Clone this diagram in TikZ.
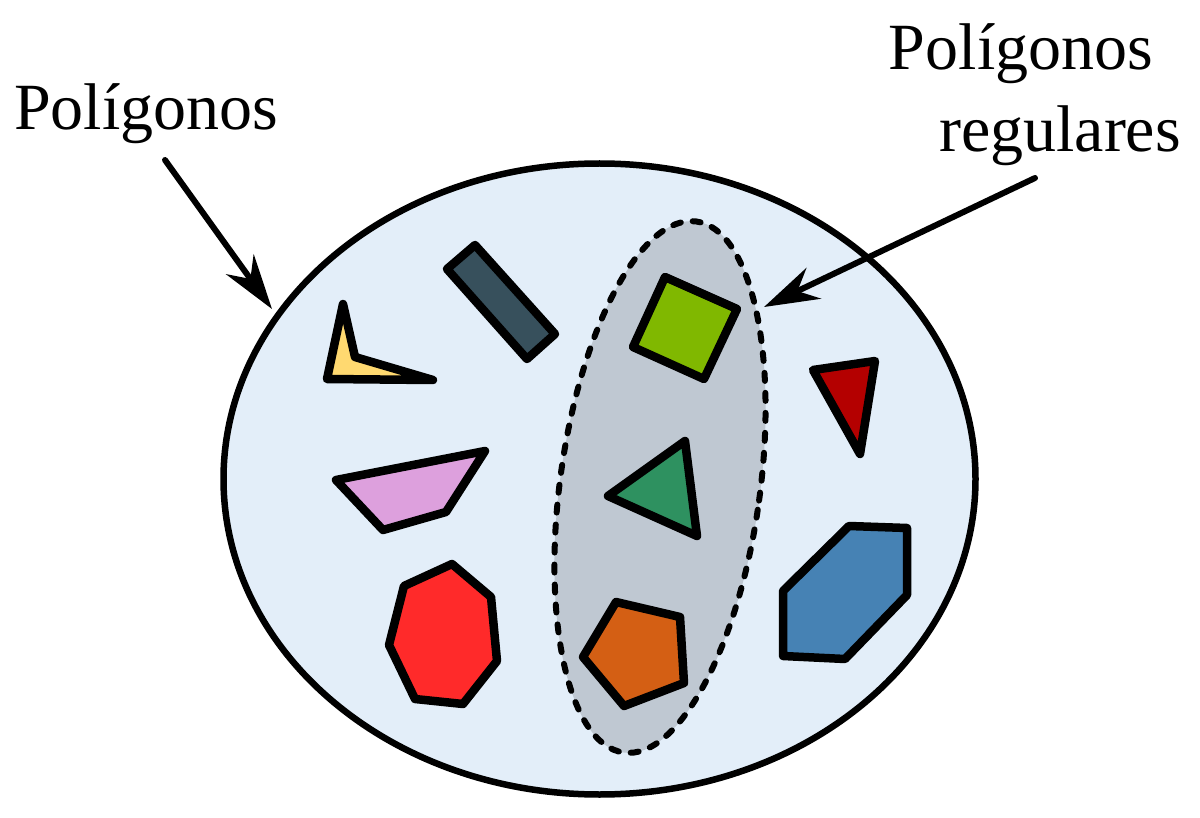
\documentclass[tikz,border=0pt]{standalone}
\usepackage{fontspec}
\setmainfont{Liberation Serif}
\usetikzlibrary{arrows.meta}
\definecolor{setfill}{HTML}{E3EEF9}
\definecolor{regfill}{HTML}{BFC8D2}
\definecolor{cyellow}{HTML}{FFD970}
\definecolor{cslate}{HTML}{37505C}
\definecolor{cplum}{HTML}{DDA0DD}
\definecolor{cred}{HTML}{FF2A2A}
\definecolor{corange}{HTML}{D45F14}
\definecolor{clime}{HTML}{80B800}
\definecolor{cgreen}{HTML}{2E9160}
\definecolor{cdarkred}{HTML}{B40000}
\definecolor{cblue}{HTML}{4682B4}
\tikzset{
  poly/.style={draw=black, line width=8.5pt, line join=round},
  pointer/.style={draw=black, line width=6pt, line cap=round,
    -{Stealth[length=55pt, width=34pt, inset=18pt]}},
  txtlabel/.style={font=\fontsize{66pt}{72pt}\selectfont, inner sep=0pt, text=black}
}
\begin{document}
\begin{tikzpicture}[x=1pt, y=1pt]
\fill[white] (0,0) rectangle (1200,-818);
\useasboundingbox (0,0) rectangle (1200,-818);
% big set
\draw[line width=6.5pt, fill=setfill] (599.5,-479) ellipse [x radius=376, y radius=315.5];
% regular polygons subset
\begin{scope}[shift={(660,-487)}, rotate=-7.8]
\draw[line width=6pt, fill=regfill, dash pattern=on 8pt off 12pt, line cap=round]
  (0,0) ellipse [x radius=100, y radius=268];
\end{scope}
% shapes
\draw[poly, fill=cyellow] (343,-304) -- (355,-357) -- (433,-380) -- (327,-379) -- cycle;
\draw[poly, fill=cslate] (447,-269) -- (475,-245) -- (555,-334) -- (527,-359) -- cycle;
\draw[poly, fill=cplum] (336,-480) -- (485,-451) -- (446,-512) -- (383,-530) -- cycle;
\draw[poly, fill=cred] (452,-564) -- (491,-597) -- (497,-661) -- (463,-704) -- (415,-699) -- (389,-645) -- (404,-586) -- cycle;
\draw[poly, fill=corange] (616,-602) -- (680,-617) -- (684,-683) -- (624,-706) -- (583,-657) -- cycle;
\draw[poly, fill=clime] (665,-277) -- (737,-309) -- (704,-379) -- (633,-347) -- cycle;
\draw[poly, fill=cgreen] (685,-441) -- (697,-536) -- (608,-496) -- cycle;
\draw[poly, fill=cdarkred] (813,-370) -- (875,-361) -- (860,-454) -- cycle;
\draw[poly, fill=cblue] (849,-526) -- (907,-528) -- (907,-595) -- (845,-659) -- (783,-656) -- (783,-591) -- cycle;
% labels
\node[txtlabel, anchor=base west] (lpol) at (14,-130) {Polígonos};
\node[txtlabel, anchor=base] (lreg1) at (1021,-70) {Polígonos};
\node[txtlabel, anchor=base] (lreg2) at (1060,-152) {regulares};
% arrows
\coordinate (a1s) at (165,-160);
\coordinate (a1e) at (272,-309);
\coordinate (a2s) at (1035,-178);
\coordinate (a2e) at (764,-307);
\draw[pointer] (a1s) -- (a1e);
\draw[pointer] (a2s) -- (a2e);
\end{tikzpicture}
\end{document}
